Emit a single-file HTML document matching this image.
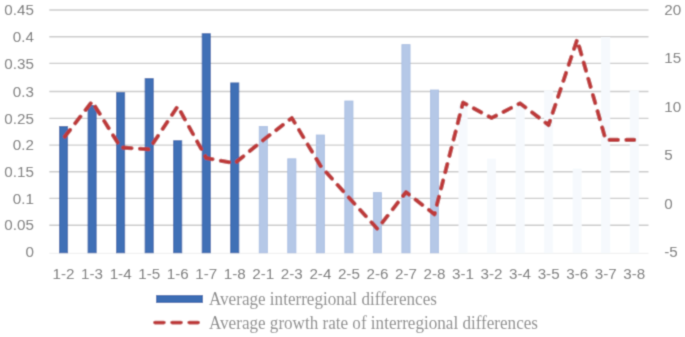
<!DOCTYPE html>
<html><head><meta charset="utf-8"><style>
html,body{margin:0;padding:0;background:#fff;}
svg{display:block;}
.ax{font-family:"Liberation Sans",sans-serif;font-size:15.2px;fill:#747474;}
.lg{font-family:"Liberation Serif",serif;font-size:17.1px;fill:#8a8a8a;}
</style></head><body>
<svg width="685" height="337" viewBox="0 0 685 337">
<defs><filter id="bl" filterUnits="userSpaceOnUse" x="0" y="0" width="685" height="337"><feConvolveMatrix order="3" kernelMatrix="1 4 1 4 16 4 1 4 1" edgeMode="duplicate"/></filter></defs>
<g filter="url(#bl)">
<rect x="0" y="0" width="685" height="337" fill="#fff"/>

<line x1="49.3" x2="648.5" y1="10" y2="10" stroke="#cbcbcb" stroke-width="1.4"/>
<line x1="49.3" x2="648.5" y1="36.7" y2="36.7" stroke="#cbcbcb" stroke-width="1.4"/>
<line x1="49.3" x2="648.5" y1="63.4" y2="63.4" stroke="#cbcbcb" stroke-width="1.4"/>
<line x1="49.3" x2="648.5" y1="91.5" y2="91.5" stroke="#cbcbcb" stroke-width="1.4"/>
<line x1="49.3" x2="648.5" y1="118.4" y2="118.4" stroke="#cbcbcb" stroke-width="1.4"/>
<line x1="49.3" x2="648.5" y1="145.1" y2="145.1" stroke="#cbcbcb" stroke-width="1.4"/>
<line x1="49.3" x2="648.5" y1="171.7" y2="171.7" stroke="#cbcbcb" stroke-width="1.4"/>
<line x1="49.3" x2="648.5" y1="198.4" y2="198.4" stroke="#cbcbcb" stroke-width="1.4"/>
<line x1="49.3" x2="648.5" y1="225.2" y2="225.2" stroke="#cbcbcb" stroke-width="1.4"/>
<line x1="49.3" x2="648.5" y1="253.4" y2="253.4" stroke="#f1f1f1" stroke-width="1.2"/>
<rect x="59.47" y="126.40" width="8.20" height="126.40" fill="#3f6fb6" stroke="#3060a8" stroke-width="0.8"/>
<rect x="88.00" y="105.40" width="8.20" height="147.40" fill="#3f6fb6" stroke="#3060a8" stroke-width="0.8"/>
<rect x="116.53" y="92.70" width="8.20" height="160.10" fill="#3f6fb6" stroke="#3060a8" stroke-width="0.8"/>
<rect x="145.07" y="78.60" width="8.20" height="174.20" fill="#3f6fb6" stroke="#3060a8" stroke-width="0.8"/>
<rect x="173.60" y="140.70" width="8.20" height="112.10" fill="#3f6fb6" stroke="#3060a8" stroke-width="0.8"/>
<rect x="202.13" y="33.70" width="8.20" height="219.10" fill="#3f6fb6" stroke="#3060a8" stroke-width="0.8"/>
<rect x="230.67" y="82.90" width="8.20" height="169.90" fill="#3f6fb6" stroke="#3060a8" stroke-width="0.8"/>
<rect x="259.20" y="126.40" width="8.20" height="126.40" fill="#b5c8e7" stroke="#a8bde2" stroke-width="0.8"/>
<rect x="287.73" y="158.80" width="8.20" height="94.00" fill="#b5c8e7" stroke="#a8bde2" stroke-width="0.8"/>
<rect x="316.27" y="135.00" width="8.20" height="117.80" fill="#b5c8e7" stroke="#a8bde2" stroke-width="0.8"/>
<rect x="344.80" y="101.00" width="8.20" height="151.80" fill="#b5c8e7" stroke="#a8bde2" stroke-width="0.8"/>
<rect x="373.33" y="192.60" width="8.20" height="60.20" fill="#b5c8e7" stroke="#a8bde2" stroke-width="0.8"/>
<rect x="401.87" y="44.60" width="8.20" height="208.20" fill="#b5c8e7" stroke="#a8bde2" stroke-width="0.8"/>
<rect x="430.40" y="90.00" width="8.20" height="162.80" fill="#b5c8e7" stroke="#a8bde2" stroke-width="0.8"/>
<rect x="458.93" y="105.40" width="8.20" height="147.40" fill="#f6f9fd" stroke="#f6f9fd" stroke-width="0.8"/>
<rect x="487.47" y="159.10" width="8.20" height="93.70" fill="#f6f9fd" stroke="#f6f9fd" stroke-width="0.8"/>
<rect x="516.00" y="104.40" width="8.20" height="148.40" fill="#f6f9fd" stroke="#f6f9fd" stroke-width="0.8"/>
<rect x="544.53" y="90.90" width="8.20" height="161.90" fill="#f6f9fd" stroke="#f6f9fd" stroke-width="0.8"/>
<rect x="573.07" y="169.00" width="8.20" height="83.80" fill="#f6f9fd" stroke="#f6f9fd" stroke-width="0.8"/>
<rect x="601.60" y="37.40" width="8.20" height="215.40" fill="#f6f9fd" stroke="#f6f9fd" stroke-width="0.8"/>
<rect x="630.13" y="90.90" width="8.20" height="161.90" fill="#f6f9fd" stroke="#f6f9fd" stroke-width="0.8"/>
<polyline points="63.57,138.3 92.10,101.5 120.63,147.5 149.17,149.3 177.70,106.3 206.23,158 234.77,163.3 263.30,140 291.83,118 320.37,165.6 348.90,197.7 377.43,228.8 405.97,192.2 434.50,214.3 463.03,102.5 491.57,118 520.10,103.3 548.63,125 577.17,39.6 605.70,139.9 634.23,139.9" fill="none" stroke="#be3b3b" stroke-width="4.1" stroke-dasharray="8.4 8.44" stroke-dashoffset="-2.2" stroke-linecap="round" stroke-linejoin="round"/>
<text class="ax" x="33.9" y="15.2" text-anchor="end">0.45</text>
<text class="ax" x="33.9" y="41.9" text-anchor="end">0.4</text>
<text class="ax" x="33.9" y="68.6" text-anchor="end">0.35</text>
<text class="ax" x="33.9" y="96.7" text-anchor="end">0.3</text>
<text class="ax" x="33.9" y="123.6" text-anchor="end">0.25</text>
<text class="ax" x="33.9" y="150.3" text-anchor="end">0.2</text>
<text class="ax" x="33.9" y="176.9" text-anchor="end">0.15</text>
<text class="ax" x="33.9" y="203.6" text-anchor="end">0.1</text>
<text class="ax" x="33.9" y="230.4" text-anchor="end">0.05</text>
<text class="ax" x="33.9" y="257.2" text-anchor="end">0</text>
<text class="ax" x="664.3" y="14.9">20</text>
<text class="ax" x="664.3" y="63.3">15</text>
<text class="ax" x="664.3" y="111.7">10</text>
<text class="ax" x="664.3" y="160.1">5</text>
<text class="ax" x="664.3" y="208.5">0</text>
<text class="ax" x="664.3" y="256.9">-5</text>
<text class="ax" x="63.57" y="279" text-anchor="middle">1-2</text>
<text class="ax" x="92.10" y="279" text-anchor="middle">1-3</text>
<text class="ax" x="120.63" y="279" text-anchor="middle">1-4</text>
<text class="ax" x="149.17" y="279" text-anchor="middle">1-5</text>
<text class="ax" x="177.70" y="279" text-anchor="middle">1-6</text>
<text class="ax" x="206.23" y="279" text-anchor="middle">1-7</text>
<text class="ax" x="234.77" y="279" text-anchor="middle">1-8</text>
<text class="ax" x="263.30" y="279" text-anchor="middle">2-1</text>
<text class="ax" x="291.83" y="279" text-anchor="middle">2-3</text>
<text class="ax" x="320.37" y="279" text-anchor="middle">2-4</text>
<text class="ax" x="348.90" y="279" text-anchor="middle">2-5</text>
<text class="ax" x="377.43" y="279" text-anchor="middle">2-6</text>
<text class="ax" x="405.97" y="279" text-anchor="middle">2-7</text>
<text class="ax" x="434.50" y="279" text-anchor="middle">2-8</text>
<text class="ax" x="463.03" y="279" text-anchor="middle">3-1</text>
<text class="ax" x="491.57" y="279" text-anchor="middle">3-2</text>
<text class="ax" x="520.10" y="279" text-anchor="middle">3-4</text>
<text class="ax" x="548.63" y="279" text-anchor="middle">3-5</text>
<text class="ax" x="577.17" y="279" text-anchor="middle">3-6</text>
<text class="ax" x="605.70" y="279" text-anchor="middle">3-7</text>
<text class="ax" x="634.23" y="279" text-anchor="middle">3-8</text>
<rect x="156" y="295" width="47" height="8" fill="#3d6db4"/>
<line x1="154.9" y1="322.6" x2="198.2" y2="322.6" stroke="#be3b3b" stroke-width="3.6" stroke-linecap="round" stroke-dasharray="9.1 8"/>
<text class="lg" transform="translate(209 304.7) scale(1 1.15)">Average interregional differences</text>
<text class="lg" transform="translate(209 329.1) scale(1 1.15)">Average growth rate of interregional differences</text>
</g></svg></body></html>
